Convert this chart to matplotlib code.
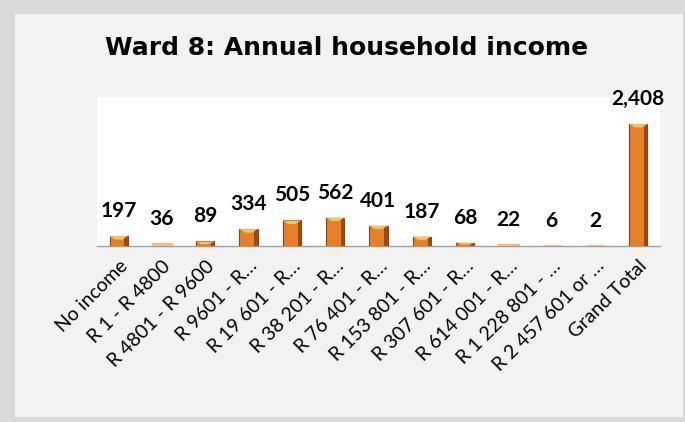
import matplotlib.pyplot as plt
from matplotlib.patches import Polygon, Rectangle

categories = ["No income", "R 1 - R 4800", "R 4801 - R 9600", "R 9601 - R\u2026",
              "R 19 601 - R\u2026", "R 38 201 - R\u2026", "R 76 401 - R\u2026",
              "R 153 801 - R\u2026", "R 307 601 - R\u2026", "R 614 001 - R\u2026",
              "R 1 228 801 - \u2026", "R 2 457 601 or \u2026", "Grand Total"]
households = [197, 36, 89, 334, 505, 562, 401, 187, 68, 22, 6, 2, 2408]

fig = plt.figure(figsize=(6.85, 4.22), dpi=100)
fig.patch.set_facecolor("#d9d9d9")

# light panel behind the chart
fig.add_artist(Rectangle((15 / 685, 5 / 422), 668 / 685, 403 / 422,
                         transform=fig.transFigure, facecolor="#f2f2f2",
                         edgecolor="none", zorder=0))

ax = fig.add_axes([97 / 685, 176 / 422, 563 / 685, 149 / 422])
ax.set_facecolor("white")

x = range(len(categories))
bars = ax.bar(x, households, width=0.42, color="#e6802a", edgecolor="#8a4512",
              linewidth=0.8, zorder=3)

# bevel: dark right side and light top cap on each bar
bevel = 70
for rect, v in zip(bars, households):
    x0, w, h = rect.get_x(), rect.get_width(), rect.get_height()
    if h < 40:
        # very short bars only show the light bevel
        rect.set_facecolor("#efb98e")
        rect.set_edgecolor("#efb98e")
        rect.set_linewidth(2.4)
        rect.set_zorder(6)
        continue
    ax.add_patch(Rectangle((x0 + w * 0.82, 0), w * 0.18, h, facecolor="#9a4a12",
                           edgecolor="none", zorder=4))
    cap = min(h * 0.6, bevel)
    ax.add_patch(Polygon([(x0, h), (x0 + w, h), (x0 + w * 0.7, h - cap),
                          (x0 + w * 0.3, h - cap)], closed=True,
                         facecolor="#f7c15e", edgecolor="none", zorder=5))

for xi, v in zip(x, households):
    ax.annotate(f"{v:,}", (xi, v), xytext=(0, 18), textcoords="offset points",
                ha="center", va="center", fontsize=15, fontweight="bold",
                family="Lato", color="black")

ax.set_ylim(0, 2940)
ax.set_xlim(-0.5, len(categories) - 0.5)
ax.set_yticks([])
ax.set_xticks(list(x))
ax.set_xticklabels(categories, rotation=45, ha="right", rotation_mode="anchor",
                   fontsize=14, family="Lato")
ax.tick_params(axis="x", length=0, pad=8)
for s in ["top", "left", "right"]:
    ax.spines[s].set_visible(False)
ax.spines["bottom"].set_color("#a0a0a0")
ax.spines["bottom"].set_linewidth(1)

fig.text(347 / 685, 1 - 48 / 422, "Ward 8: Annual household income",
         ha="center", va="center", fontsize=18, fontweight="bold",
         family="DejaVu Sans")

fig.savefig("out.png", dpi=100, facecolor=fig.get_facecolor())
